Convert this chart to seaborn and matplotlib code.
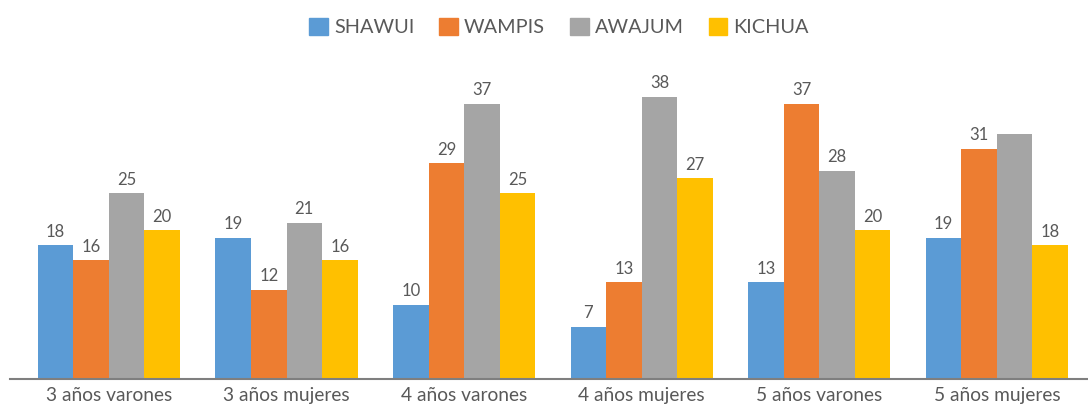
import matplotlib
matplotlib.use('Agg')
import matplotlib.pyplot as plt
import seaborn as sns
import pandas as pd

categories = ['3 años varones', '3 años mujeres', '4 años varones',
              '4 años mujeres', '5 años varones', '5 años mujeres']
shawui = [18, 19, 10, 7, 13, 19]
wampis = [16, 12, 29, 13, 37, 31]
awajum = [25, 21, 37, 38, 28, 33]
kichua = [20, 16, 25, 27, 20, 18]
series = ['SHAWUI', 'WAMPIS', 'AWAJUM', 'KICHUA']
colors = ['#5B9BD5', '#ED7D31', '#A5A5A5', '#FFC000']

rows = []
for name, vals in zip(series, [shawui, wampis, awajum, kichua]):
    for cat, v in zip(categories, vals):
        rows.append({'Grupo': cat, 'Pueblo': name, 'Valor': v})
df = pd.DataFrame(rows)

sns.set_style('white')
plt.rcParams['font.family'] = ['Lato', 'DejaVu Sans']

fig = plt.figure(figsize=(10.88, 4.11), dpi=100)
ax = fig.add_axes([10 / 1088, 32 / 411, 1078 / 1088, 333 / 411])

sns.barplot(data=df, x='Grupo', y='Valor', hue='Pueblo', palette=colors,
            width=0.8, saturation=1, linewidth=0, ax=ax, legend=False)

# etiquetas de datos (la barra AWAJUM de "5 años mujeres" no lleva)
for name, container in zip(series, ax.containers):
    labels = []
    for cat, bar in zip(categories, container):
        v = bar.get_height()
        if name == 'AWAJUM' and cat == '5 años mujeres':
            labels.append('')
        else:
            labels.append(f'{v:.0f}')
    ax.bar_label(container, labels=labels, padding=4, fontsize=12, color='#595959')

ax.set_ylim(0, 44.8)
ax.set_xlim(-0.557, 5.513)
ax.set_yticks([])
ax.set_xlabel('')
ax.set_ylabel('')
for s in ['top', 'right', 'left']:
    ax.spines[s].set_visible(False)
ax.spines['bottom'].set_color('#7F7F7F')
ax.spines['bottom'].set_linewidth(1.5)
ax.tick_params(axis='x', length=0, labelsize=13.8, labelcolor='#595959', pad=6)

handles = [plt.Rectangle((0, 0), 1, 1, color=c) for c in colors]
fig.legend(handles, series, loc='center', bbox_to_anchor=(559 / 1088, 0.935), ncol=4,
           frameon=False, fontsize=14.3, labelcolor='#595959', handlelength=0.95,
           handleheight=0.95, handletextpad=0.3, columnspacing=1.25)

fig.savefig('out.png', dpi=100)
